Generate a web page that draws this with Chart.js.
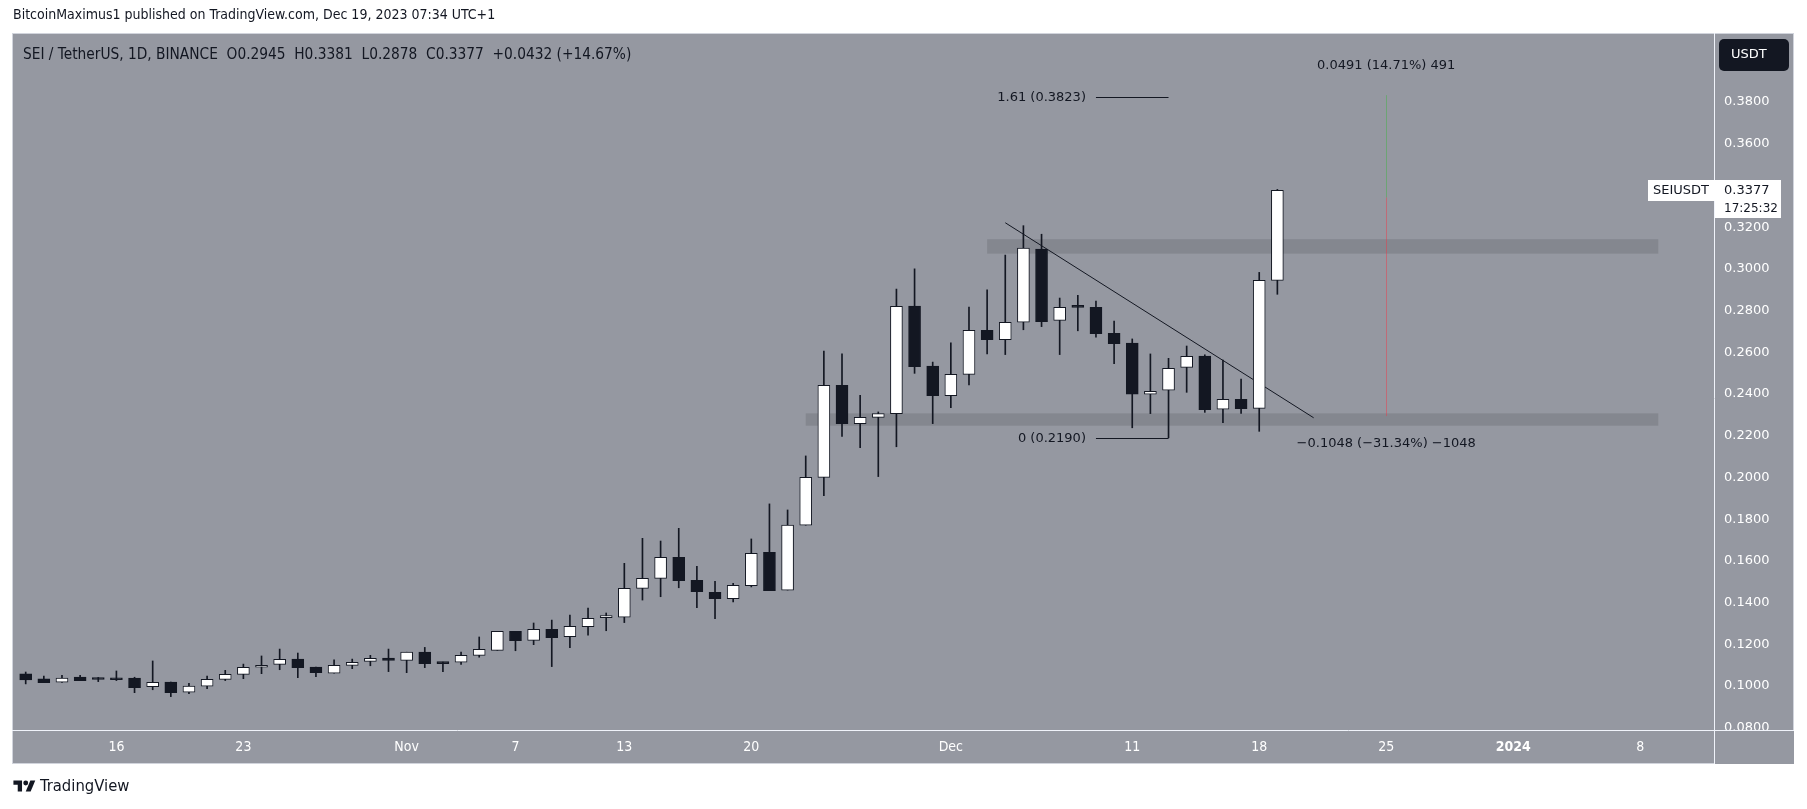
<!DOCTYPE html>
<html>
<head>
<meta charset="utf-8">
<script src="https://cdn.jsdelivr.net/npm/chart.js@4.4.0/dist/chart.umd.min.js"></script>
<style>
  html, body { margin: 0; padding: 0; background: #ffffff; }
  #wrap { position: relative; width: 1807px; height: 809px; overflow: hidden; }
  #myChart { position: absolute; left: 0; top: 0; }
  .txt { position: absolute; white-space: pre; color: #131722;
         font-family: 'DejaVu Sans Condensed', 'Liberation Sans Narrow', sans-serif; }
  #hdr { left: 13px; top: 6px; font-size: 14px; }
  #legend { left: 23px; top: 45px; font-size: 15.3px; }
  #brand { left: 13px; top: 776px; font-size: 16.5px; display: flex; align-items: center; }
  #brand svg { margin-right: 4px; }
</style>
</head>
<body>
<div id="wrap">
  <canvas id="myChart" width="1807" height="809"></canvas>
  <div class="txt" id="hdr">BitcoinMaximus1 published on TradingView.com, Dec 19, 2023 07:34 UTC+1</div>
  <div class="txt" id="legend">SEI / TetherUS, 1D, BINANCE  O0.2945  H0.3381  L0.2878  C0.3377  +0.0432 (+14.67%)</div>
  <div class="txt" id="brand"><svg width="23" height="16" viewBox="0 0 36 26"><path d="M14 22H7V11H0V4h14z" fill="#131722"/><circle cx="20" cy="8" r="4" fill="#131722"/><path d="M28 22h-8l7.5-18h8z" fill="#131722"/></svg>TradingView</div>
</div>
<script>
'use strict';
// 日足データ (SEI / USDT)
const dates = [
  '2023-10-10','2023-10-11','2023-10-12','2023-10-13','2023-10-14','2023-10-15','2023-10-16','2023-10-17','2023-10-18','2023-10-19',
  '2023-10-20','2023-10-21','2023-10-22','2023-10-23','2023-10-24','2023-10-25','2023-10-26','2023-10-27','2023-10-28','2023-10-29',
  '2023-10-30','2023-10-31','2023-11-01','2023-11-02','2023-11-03','2023-11-04','2023-11-05','2023-11-06','2023-11-07','2023-11-08',
  '2023-11-09','2023-11-10','2023-11-11','2023-11-12','2023-11-13','2023-11-14','2023-11-15','2023-11-16','2023-11-17','2023-11-18',
  '2023-11-19','2023-11-20','2023-11-21','2023-11-22','2023-11-23','2023-11-24','2023-11-25','2023-11-26','2023-11-27','2023-11-28',
  '2023-11-29','2023-11-30','2023-12-01','2023-12-02','2023-12-03','2023-12-04','2023-12-05','2023-12-06','2023-12-07','2023-12-08',
  '2023-12-09','2023-12-10','2023-12-11','2023-12-12','2023-12-13','2023-12-14','2023-12-15','2023-12-16','2023-12-17','2023-12-18',
  '2023-12-19'
];
const opens = [
  0.1089,0.1058,0.1034,0.1018,0.1043,0.1034,0.1038,0.1038,0.0997,0.1019,
  0.0970,0.0999,0.1032,0.1056,0.1090,0.1104,0.1129,0.1091,0.1061,0.1099,
  0.1118,0.1134,0.1123,0.1163,0.1115,0.1114,0.1147,0.1171,0.1262,0.1219,
  0.1272,0.1236,0.1285,0.1328,0.1330,0.1468,0.1516,0.1617,0.1507,0.1449,
  0.1419,0.1481,0.1641,0.1460,0.1771,0.2000,0.2442,0.2258,0.2288,0.2306,
  0.2822,0.2534,0.2392,0.2494,0.2705,0.2660,0.2744,0.3095,0.2753,0.2817,
  0.2816,0.2691,0.2644,0.2399,0.2418,0.2528,0.2582,0.2327,0.2375,0.2331,
  0.2945
];
const highs = [
  0.1095,0.1067,0.1048,0.1051,0.1051,0.1041,0.1072,0.1042,0.1120,0.1019,
  0.1013,0.1048,0.1075,0.1105,0.1144,0.1177,0.1158,0.1091,0.1125,0.1129,
  0.1147,0.1177,0.1162,0.1185,0.1115,0.1163,0.1235,0.1262,0.1262,0.1302,
  0.1316,0.1340,0.1374,0.1350,0.1588,0.1708,0.1695,0.1756,0.1574,0.1502,
  0.1492,0.1705,0.1873,0.1844,0.2103,0.2606,0.2592,0.2394,0.2314,0.2903,
  0.3000,0.2553,0.2645,0.2817,0.2899,0.3066,0.3207,0.3166,0.2860,0.2873,
  0.2846,0.2750,0.2664,0.2592,0.2571,0.2630,0.2588,0.2563,0.2472,0.2983,
  0.3381
];
const lows = [
  0.1045,0.1010,0.1016,0.1017,0.1025,0.1021,0.1026,0.0968,0.0982,0.0949,
  0.0963,0.0987,0.1026,0.1035,0.1059,0.1078,0.1040,0.1045,0.1061,0.1083,
  0.1097,0.1069,0.1064,0.1088,0.1069,0.1103,0.1138,0.1171,0.1169,0.1198,
  0.1093,0.1184,0.1244,0.1265,0.1304,0.1412,0.1428,0.1471,0.1375,0.1323,
  0.1403,0.1475,0.1457,0.1460,0.1771,0.1912,0.2196,0.2143,0.2004,0.2147,
  0.2499,0.2258,0.2334,0.2444,0.2592,0.2589,0.2708,0.2723,0.2589,0.2703,
  0.2673,0.2545,0.2238,0.2306,0.2190,0.2408,0.2312,0.2262,0.2307,0.2221,
  0.2878
];
const closes = [
  0.1058,0.1029,0.1016,0.1038,0.1025,0.1031,0.1030,0.0992,0.1018,0.0968,
  0.0999,0.1032,0.1056,0.1090,0.1099,0.1128,0.1088,0.1064,0.1099,0.1114,
  0.1133,0.1123,0.1162,0.1107,0.1107,0.1147,0.1176,0.1262,0.1217,0.1272,
  0.1232,0.1286,0.1325,0.1331,0.1468,0.1516,0.1617,0.1505,0.1452,0.1419,
  0.1483,0.1636,0.1457,0.1771,0.2000,0.2442,0.2258,0.2288,0.2306,0.2820,
  0.2531,0.2392,0.2494,0.2705,0.2660,0.2744,0.3099,0.2747,0.2816,0.2815,
  0.2689,0.2641,0.2399,0.2413,0.2523,0.2581,0.2325,0.2375,0.2330,0.2945,
  0.3377
];

// 軸の目盛り
const priceTicks = [0.08,0.10,0.12,0.14,0.16,0.18,0.20,0.22,0.24,0.26,0.28,0.30,0.32,0.34,0.36,0.38];
const dateTicks = ['2023-10-16','2023-10-23','2023-11-01','2023-11-07','2023-11-13','2023-11-20','2023-12-01','2023-12-11','2023-12-18','2023-12-25','2024-01-01','2024-01-08'];
const dateTickLabels = ['16','23','Nov','7','13','20','Dec','11','18','25','2024','8'];

// 描画ツール (ゾーン・トレンドライン・フィボ・値幅)
const zoneTops = [0.3142, 0.2307];
const zoneBottoms = [0.3073, 0.2248];
const zoneStarts = ['2023-12-03', '2023-11-23'];
const zoneEnds = ['2024-01-09', '2024-01-09'];
const trendDates = ['2023-12-04', '2023-12-21'];
const trendPrices = [0.3221, 0.2286];
const fibLevels = ['1.61', '0'];
const fibPrices = [0.3823, 0.2190];
const fibDates = ['2023-12-09', '2023-12-13'];
const rangeDate = '2023-12-25';
const rangeBase = 0.3342;
const rangeMoves = [0.0491, -0.1048];
const rangeLabels = ['0.0491 (14.71%) 491', '\u22120.1048 (\u221231.34%) \u22121048'];

const symbolName = 'SEIUSDT';
const countdown = '17:25:32';

const DAY = 86400000;
const baseDay = Date.UTC(2023, 9, 16) / DAY;
function dayNum(s) {
  const p = s.split('-');
  return Date.UTC(+p[0], +p[1] - 1, +p[2]) / DAY - baseDay;
}

const ink = '#131722';
const panelBg = '#9598a1';
const zoneBg = '#84878f';
const axisText = '#ffffff';
const condensed = "'DejaVu Sans Condensed', 'Liberation Sans Narrow', sans-serif";
const plain = "'DejaVu Sans', sans-serif";

const bodyData = dates.map((d, i) => ({ x: dayNum(d), y: [opens[i], closes[i]] }));
const wickData = dates.map((d, i) => ({ x: dayNum(d), y: [lows[i], highs[i]] }));
const bodyColors = closes.map((c, i) => c >= opens[i] ? '#ffffff' : ink);

const tvPlugin = {
  id: 'tv',
  beforeDraw(chart) {
    const ctx = chart.ctx;
    ctx.save();
    ctx.fillStyle = '#ffffff';
    ctx.fillRect(0, 0, chart.width, chart.height);
    ctx.fillStyle = panelBg;
    ctx.fillRect(12, 33, 1782, 731);
    ctx.strokeStyle = '#d1d4dc';
    ctx.lineWidth = 1;
    ctx.strokeRect(12.5, 33.5, 1781, 730);
    ctx.restore();
  },
  beforeDatasetsDraw(chart) {
    const ctx = chart.ctx, a = chart.chartArea;
    const sx = chart.scales.x, sy = chart.scales.y;
    ctx.save();
    ctx.beginPath();
    ctx.rect(a.left, a.top, a.right - a.left, a.bottom - a.top);
    ctx.clip();
    // ゾーン
    ctx.fillStyle = zoneBg;
    for (let i = 0; i < zoneTops.length; i++) {
      const x1 = sx.getPixelForValue(dayNum(zoneStarts[i]));
      const x2 = sx.getPixelForValue(dayNum(zoneEnds[i]));
      const y1 = sy.getPixelForValue(zoneTops[i]);
      const y2 = sy.getPixelForValue(zoneBottoms[i]);
      ctx.fillRect(x1, y1, x2 - x1, y2 - y1);
    }
    // 値幅の縦線
    const rx = Math.round(sx.getPixelForValue(dayNum(rangeDate))) + 0.5;
    const yb = sy.getPixelForValue(rangeBase);
    ctx.lineWidth = 1;
    ctx.strokeStyle = 'rgba(76,175,80,0.55)';
    ctx.beginPath();
    ctx.moveTo(rx, sy.getPixelForValue(rangeBase + rangeMoves[0]));
    ctx.lineTo(rx, yb);
    ctx.stroke();
    ctx.strokeStyle = 'rgba(242,54,69,0.45)';
    ctx.beginPath();
    ctx.moveTo(rx, yb);
    ctx.lineTo(rx, sy.getPixelForValue(rangeBase + rangeMoves[1]));
    ctx.stroke();
    // トレンドライン
    ctx.strokeStyle = ink;
    ctx.beginPath();
    ctx.moveTo(sx.getPixelForValue(dayNum(trendDates[0])), sy.getPixelForValue(trendPrices[0]));
    ctx.lineTo(sx.getPixelForValue(dayNum(trendDates[1])), sy.getPixelForValue(trendPrices[1]));
    ctx.stroke();
    ctx.restore();
  },
  afterDatasetsDraw(chart) {
    const ctx = chart.ctx;
    const sx = chart.scales.x, sy = chart.scales.y;
    ctx.save();
    ctx.font = '13px ' + plain;
    ctx.fillStyle = ink;
    ctx.strokeStyle = ink;
    ctx.lineWidth = 1;
    ctx.textBaseline = 'middle';
    // フィボナッチ
    const fx1 = sx.getPixelForValue(dayNum(fibDates[0]));
    const fx2 = sx.getPixelForValue(dayNum(fibDates[1]));
    for (let i = 0; i < fibLevels.length; i++) {
      const y = Math.round(sy.getPixelForValue(fibPrices[i])) + 0.5;
      ctx.beginPath();
      ctx.moveTo(fx1, y);
      ctx.lineTo(fx2, y);
      ctx.stroke();
      ctx.textAlign = 'right';
      ctx.fillText(fibLevels[i] + ' (' + fibPrices[i].toFixed(4) + ')', fx1 - 10, y);
    }
    // 値幅ラベル
    const rx = sx.getPixelForValue(dayNum(rangeDate));
    ctx.textAlign = 'center';
    ctx.fillText(rangeLabels[0], rx, sy.getPixelForValue(rangeBase + rangeMoves[0]) - 29);
    ctx.fillText(rangeLabels[1], rx, sy.getPixelForValue(rangeBase + rangeMoves[1]) + 28);
    ctx.restore();
  },
  afterDraw(chart) {
    const ctx = chart.ctx, a = chart.chartArea;
    const sy = chart.scales.y;
    ctx.save();
    // 0.0800 のはみ出しを隠す
    ctx.fillStyle = panelBg;
    ctx.fillRect(a.right + 1, a.bottom + 1, 1794 - a.right - 1, 764 - a.bottom - 1);
    ctx.strokeStyle = '#f0f3fa';
    ctx.lineWidth = 1;
    ctx.beginPath();
    ctx.moveTo(a.right + 0.5, 33);
    ctx.lineTo(a.right + 0.5, 764);
    ctx.moveTo(12, a.bottom + 0.5);
    ctx.lineTo(1794, a.bottom + 0.5);
    ctx.stroke();
    // USDT ボタン
    ctx.fillStyle = ink;
    ctx.beginPath();
    ctx.roundRect(1719, 39, 70, 32, 5);
    ctx.fill();
    ctx.fillStyle = '#ffffff';
    ctx.font = '13px ' + plain;
    ctx.textBaseline = 'middle';
    ctx.textAlign = 'left';
    ctx.fillText('USDT', 1731, 55);
    // 現在値ラベル
    const last = closes[closes.length - 1];
    const y0 = Math.round(sy.getPixelForValue(last));
    ctx.fillStyle = '#ffffff';
    ctx.fillRect(1648, y0 - 10, 67, 21);
    ctx.fillRect(a.right + 1, y0 - 10, 66, 38);
    ctx.fillStyle = ink;
    ctx.fillText(symbolName, 1653, y0 + 1);
    ctx.fillText(last.toFixed(4), a.right + 10, y0 + 1);
    ctx.font = '12px ' + plain;
    ctx.fillText(countdown, a.right + 10, y0 + 19);
    ctx.restore();
  }
};

const config = {
  type: 'bar',
  data: {
    datasets: [
      {
        label: 'body',
        data: bodyData,
        backgroundColor: bodyColors,
        borderColor: ink,
        borderWidth: 1,
        borderSkipped: false,
        barThickness: 12,
        minBarLength: 2,
        grouped: false,
        order: 0
      },
      {
        label: 'wick',
        data: wickData,
        backgroundColor: ink,
        borderWidth: 0,
        barThickness: 1,
        grouped: false,
        order: 1
      }
    ]
  },
  options: {
    responsive: false,
    devicePixelRatio: 1,
    animation: false,
    layout: { padding: { left: 14, right: 13, top: 33, bottom: 45 } },
    plugins: { legend: { display: false }, tooltip: { enabled: false } },
    scales: {
      x: {
        type: 'linear',
        offset: false,
        min: -5.645,
        max: 88.07,
        grid: { display: false, drawTicks: false },
        border: { display: false },
        afterBuildTicks: (scale) => { scale.ticks = dateTicks.map(d => ({ value: dayNum(d) })); },
        afterFit: (scale) => { scale.height = 34; },
        ticks: {
          autoSkip: false,
          maxRotation: 0,
          padding: 9,
          color: axisText,
          font: (c) => ({ family: condensed, size: 14, weight: dateTickLabels[c.index] === '2024' ? 'bold' : 'normal' }),
          callback: (v, i) => dateTickLabels[i]
        }
      },
      y: {
        type: 'linear',
        position: 'right',
        min: 0.0789,
        max: 0.41308,
        grid: { display: false, drawTicks: false },
        border: { display: false },
        afterBuildTicks: (scale) => { scale.ticks = priceTicks.map(v => ({ value: v })); },
        afterFit: (scale) => { scale.width = 80; },
        ticks: {
          padding: 10,
          color: axisText,
          font: { family: plain, size: 13 },
          callback: (v) => v.toFixed(4)
        }
      }
    }
  },
  plugins: [tvPlugin]
};

const myChart = new Chart(document.getElementById('myChart'), config);
</script>
</body>
</html>
